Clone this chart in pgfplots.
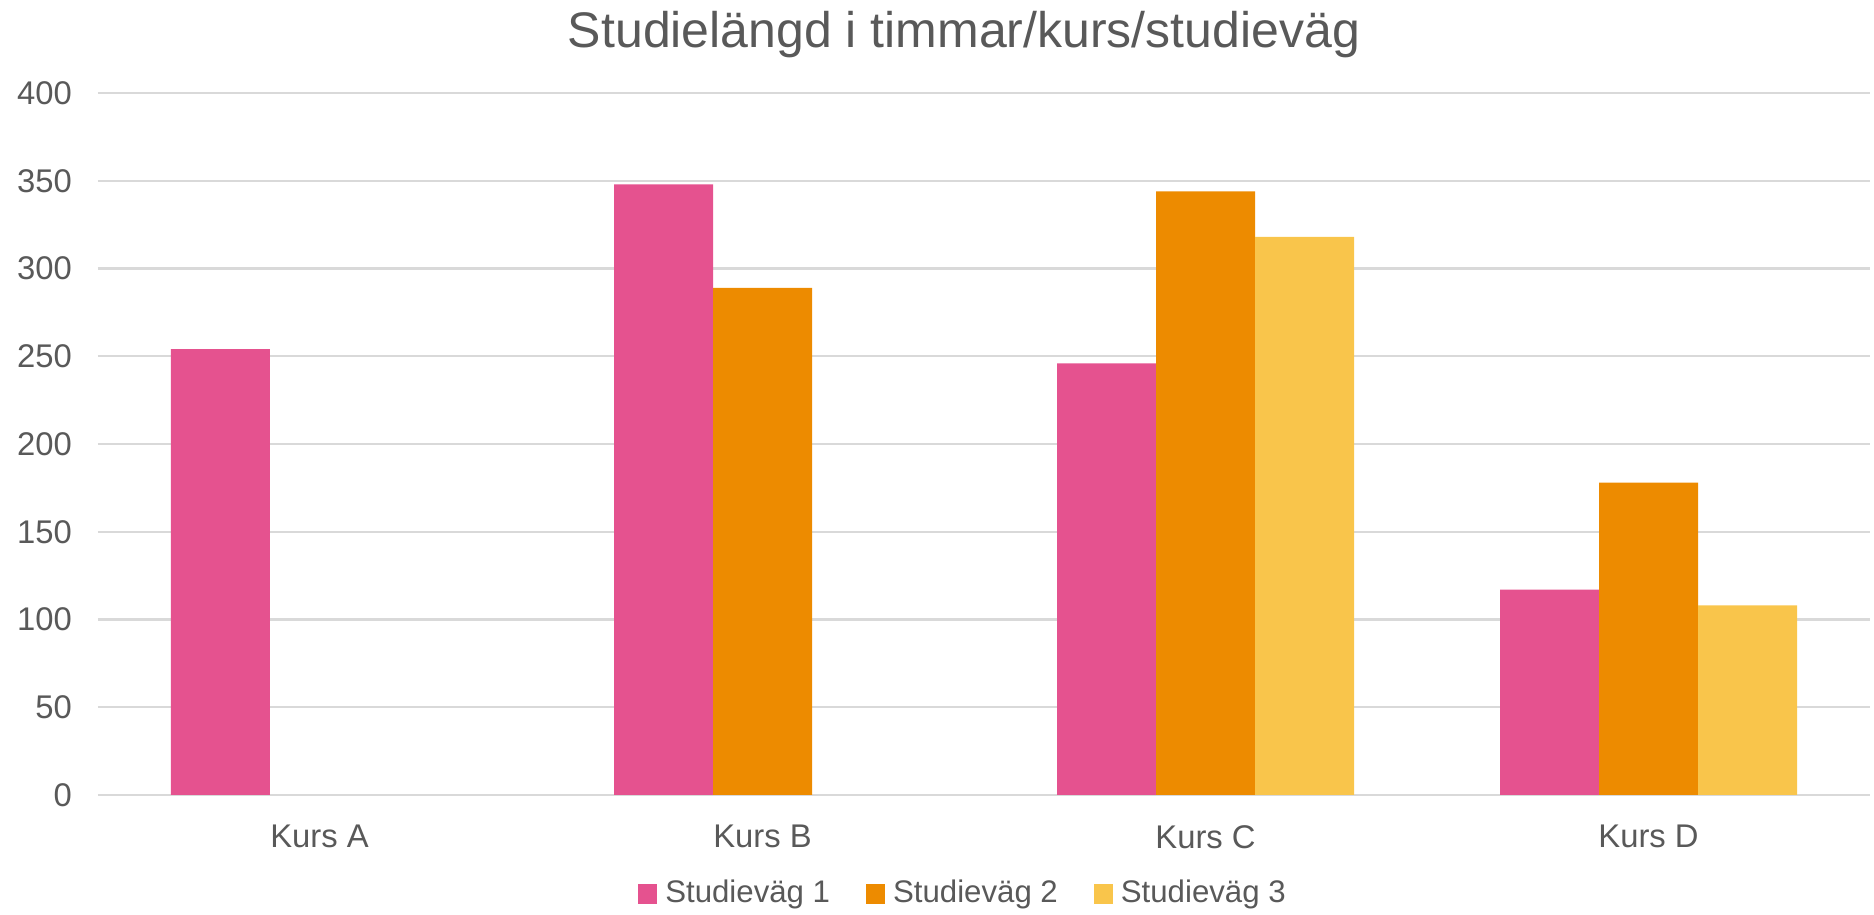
\documentclass[border=0pt]{standalone}
\usepackage{pgfplots}
\pgfplotsset{compat=1.18}
\usepackage{fontspec}
\setmainfont{Liberation Sans}

\definecolor{rosa}{HTML}{E5528F}
\definecolor{orange}{HTML}{ED8B00}
\definecolor{gul}{HTML}{F9C54B}
\definecolor{textgra}{HTML}{595959}
\definecolor{gridgra}{HTML}{D9D9D9}

\begin{document}
\begin{tikzpicture}
 \begin{axis}[
        scale only axis,
        width=443pt,
        height=175.5pt,
        ymin=0, ymax=400,
        ytick={0,50,...,400},
        xmin=-0.5, xmax=3.5,
        xtick={0,1,2,3},
        xticklabels={Kurs A,Kurs B,Kurs C,Kurs D},
        ybar=0pt,
        bar width=24.75pt,
        axis line style={draw=none},
        major tick length=0pt,
        ymajorgrids,
        grid style={gridgra, line width=0.6pt},
        /pgf/number format/assume math mode=true,
        ticklabel style={font=\fontsize{8.2}{9}\selectfont, text=textgra},
        yticklabel style={xshift=-3pt},
        xticklabel style={yshift=-4pt},
        title={Studielängd i timmar/kurs/studieväg},
        title style={font=\fontsize{12.5}{14}\selectfont, text=textgra, at={(0.5,1)}, anchor=center, yshift=8.5pt, xshift=-5pt},
        legend columns=3,
        legend style={draw=none, at={(0.5,0)}, anchor=center, yshift=-24.75pt, xshift=-4.5pt,
                      font=\fontsize{7.8}{9}\selectfont, text=textgra,
                      /tikz/every even column/.append style={column sep=7pt}},
        legend image code/.code={\fill[#1] (0pt,-2.4pt) rectangle (4.75pt,2.4pt);},
  ]
  \addplot [fill=rosa, draw=none] coordinates {(0,254) (1,348) (2,246) (3,117)};
  \addplot [fill=orange, draw=none] coordinates {(1,289) (2,344) (3,178)};
  \addplot [fill=gul, draw=none] coordinates {(2,318) (3,108)};
  \legend{Studieväg 1,Studieväg 2,Studieväg 3}
\end{axis}
\pgfresetboundingbox
\path (current axis.south west) ++(-24.5pt,-30pt) coordinate (bbA);
\path (current axis.north east) ++(1pt,23.25pt) coordinate (bbB);
\useasboundingbox (bbA) rectangle (bbB);
\end{tikzpicture}
\end{document}
